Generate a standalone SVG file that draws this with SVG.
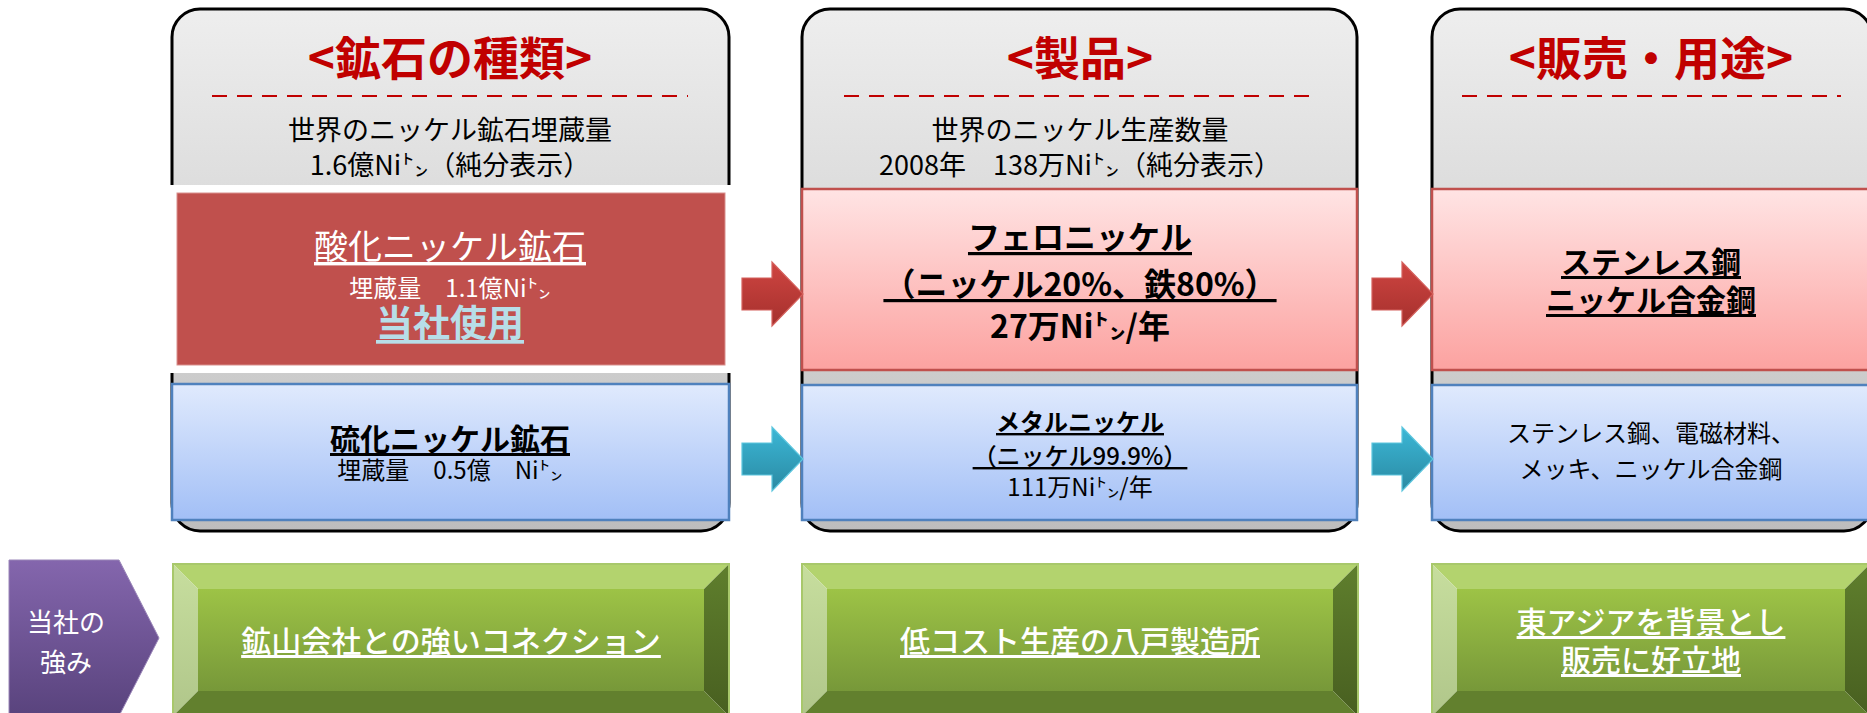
<svg xmlns="http://www.w3.org/2000/svg" width="1867" height="713" viewBox="0 0 1867 713">
<defs>
<linearGradient id="gPanel" x1="0" y1="0" x2="0" y2="1"><stop offset="0" stop-color="#eeeeee"/><stop offset="1" stop-color="#bdbdbd"/></linearGradient>
<linearGradient id="gPink" x1="0" y1="0" x2="0" y2="1"><stop offset="0" stop-color="#ffe4e4"/><stop offset="1" stop-color="#fca2a0"/></linearGradient>
<linearGradient id="gBlue" x1="0" y1="0" x2="0" y2="1"><stop offset="0" stop-color="#e0eafd"/><stop offset="1" stop-color="#a2bff6"/></linearGradient>
<linearGradient id="gRedArrow" x1="0" y1="0" x2="0" y2="1"><stop offset="0" stop-color="#cf4541"/><stop offset="1" stop-color="#a5302d"/></linearGradient>
<linearGradient id="gBlueArrow" x1="0" y1="0" x2="0" y2="1"><stop offset="0" stop-color="#3cb7d6"/><stop offset="1" stop-color="#2a8aa3"/></linearGradient>
<linearGradient id="gPurple" x1="0" y1="0" x2="0" y2="1"><stop offset="0" stop-color="#8466ad"/><stop offset="1" stop-color="#59437d"/></linearGradient>
<linearGradient id="gGreenFace" x1="0" y1="0" x2="0" y2="1"><stop offset="0" stop-color="#9dc346"/><stop offset="1" stop-color="#779839"/></linearGradient>
<linearGradient id="gGreenLeft" x1="0" y1="0" x2="0" y2="1"><stop offset="0" stop-color="#c7de9e"/><stop offset="1" stop-color="#b0c68a"/></linearGradient>
<linearGradient id="gGreenRight" x1="0" y1="0" x2="0" y2="1"><stop offset="0" stop-color="#5f7f2d"/><stop offset="1" stop-color="#485f20"/></linearGradient>
</defs>
<style>
text{font-family:"Noto Sans CJK JP","Noto Sans CJK SC",sans-serif;text-anchor:middle;dominant-baseline:central}
.panel{fill:url(#gPanel);stroke:#000;stroke-width:3}
.hdr{font-size:46px;font-weight:bold;fill:#c00000}
.dash{stroke:#c00000;stroke-width:2.2;stroke-dasharray:15 10}
.sub{font-size:27px;fill:#000}
.pink{fill:url(#gPink);stroke:#c0504d;stroke-width:2.5}
.blue{fill:url(#gBlue);stroke:#4f81bd;stroke-width:2.5}
.u{text-decoration:underline}
.b{font-weight:bold}
.w{fill:#fff}
.k{fill:#000}
.ra{fill:url(#gRedArrow);stroke:#d4605c;stroke-width:1.2}
.ba{fill:url(#gBlueArrow);stroke:#5cc6de;stroke-width:1.2}
.gface{fill:url(#gGreenFace)}
.gtop{fill:#b3d36e}
.gleft{fill:url(#gGreenLeft)}
.gright{fill:url(#gGreenRight)}
.gbot{fill:#62802e}
.gedge{fill:none;stroke:#a8c86b;stroke-width:2}
.gtxt{font-size:30px;fill:#fff;font-weight:500}
</style>

<g id="col1">
<rect class="panel" x="172" y="9" width="557" height="522" rx="28"/>
<text class="hdr" x="450" y="55">&lt;鉱石の種類&gt;</text>
<line class="dash" x1="212" y1="96" x2="688" y2="96"/>
<text class="sub"><tspan x="450" y="128">世界のニッケル鉱石埋蔵量</tspan><tspan x="450" y="163">1.6億Ni㌧（純分表示）</tspan></text>
</g>
<g id="oxide-ore">
<rect x="169" y="185" width="564" height="188" fill="#fff"/>
<rect x="177" y="193" width="548" height="172" fill="#c0504d" stroke="#d98f8d" stroke-width="1"/>
<text class="w"><tspan class="u" x="450" y="244" font-size="34">酸化ニッケル鉱石</tspan><tspan x="450" y="286" font-size="24">埋蔵量　1.1億Ni㌧</tspan><tspan class="b u" x="450" y="321" font-size="37" fill="#b7dee8">当社使用</tspan></text>
</g>
<g id="sulfide-ore">
<rect class="blue" x="172" y="384" width="557" height="136"/>
<text class="k"><tspan class="b u" x="450" y="437" font-size="30">硫化ニッケル鉱石</tspan><tspan x="450" y="468" font-size="24">埋蔵量　0.5億　Ni㌧</tspan></text>
</g>

<g id="col2">
<rect class="panel" x="802" y="9" width="555" height="522" rx="28"/>
<text class="hdr" x="1080" y="55">&lt;製品&gt;</text>
<line class="dash" x1="844" y1="96" x2="1317" y2="96"/>
<text class="sub"><tspan x="1080" y="128">世界のニッケル生産数量</tspan><tspan x="1080" y="163">2008年　138万Ni㌧（純分表示）</tspan></text>
</g>
<g id="ferronickel">
<rect class="pink" x="802" y="189" width="555" height="181"/>
<text class="k b" font-size="32"><tspan class="u" x="1080" y="235">フェロニッケル</tspan><tspan class="u" x="1080" y="282">（ニッケル20%、鉄80%）</tspan><tspan x="1080" y="324">27万Ni㌧/年</tspan></text>
</g>
<g id="metal-nickel">
<rect class="blue" x="802" y="385" width="555" height="135"/>
<text class="k" font-size="24"><tspan class="b u" x="1080" y="420">メタルニッケル</tspan><tspan class="u" x="1080" y="454" font-weight="500">（ニッケル99.9%）</tspan><tspan x="1080" y="485">111万Ni㌧/年</tspan></text>
</g>

<g id="col3">
<rect class="panel" x="1432" y="9" width="440" height="522" rx="28"/>
<text class="hdr" x="1651" y="55">&lt;販売・用途&gt;</text>
<line class="dash" x1="1462" y1="96" x2="1841" y2="96"/>
</g>
<g id="use-ferro">
<rect class="pink" x="1432" y="189" width="440" height="181"/>
<text class="k b u" font-size="30"><tspan x="1651" y="260">ステンレス鋼</tspan><tspan x="1651" y="298">ニッケル合金鋼</tspan></text>
</g>
<g id="use-metal">
<rect class="blue" x="1432" y="385" width="440" height="135"/>
<text class="k" font-size="24"><tspan x="1651" y="431">ステンレス鋼、電磁材料、</tspan><tspan x="1651" y="467">メッキ、ニッケル合金鋼</tspan></text>
</g>

<g id="connectors">
<path class="ra" d="M742,278 H772 V262 L803,294 L772,326 V310 H742 Z"/>
<path class="ba" d="M742,443 H772 V427 L803,459 L772,491 V475 H742 Z"/>
<path class="ra" d="M1372,278 H1402 V262 L1433,294 L1402,326 V310 H1372 Z"/>
<path class="ba" d="M1372,443 H1402 V427 L1433,459 L1402,491 V475 H1372 Z"/>
</g>

<g id="strength-label">
<polygon points="9,560 119,560 159,638 119,716 9,716" fill="url(#gPurple)" stroke="#9a86b8" stroke-width="1"/>
<text class="w" font-size="26"><tspan x="66" y="620">当社の</tspan><tspan x="66" y="660">強み</tspan></text>
</g>

<g id="strength1">
<polygon class="gtop" points="173,564 729,564 704,589 198,589"/>
<polygon class="gleft" points="173,564 198,589 198,691 173,716"/>
<polygon class="gright" points="729,564 729,716 704,691 704,589"/>
<polygon class="gbot" points="173,716 198,691 704,691 729,716"/>
<rect class="gface" x="198" y="589" width="506" height="102"/>
<rect class="gedge" x="173" y="564" width="556" height="152"/>
<text class="gtxt u" x="451" y="639">鉱山会社との強いコネクション</text>
</g>
<g id="strength2">
<polygon class="gtop" points="802,564 1358,564 1333,589 827,589"/>
<polygon class="gleft" points="802,564 827,589 827,691 802,716"/>
<polygon class="gright" points="1358,564 1358,716 1333,691 1333,589"/>
<polygon class="gbot" points="802,716 827,691 1333,691 1358,716"/>
<rect class="gface" x="827" y="589" width="506" height="102"/>
<rect class="gedge" x="802" y="564" width="556" height="152"/>
<text class="gtxt u" x="1080" y="639">低コスト生産の八戸製造所</text>
</g>
<g id="strength3">
<polygon class="gtop" points="1432,564 1870,564 1845,589 1457,589"/>
<polygon class="gleft" points="1432,564 1457,589 1457,691 1432,716"/>
<polygon class="gright" points="1870,564 1870,716 1845,691 1845,589"/>
<polygon class="gbot" points="1432,716 1457,691 1845,691 1870,716"/>
<rect class="gface" x="1457" y="589" width="388" height="102"/>
<rect class="gedge" x="1432" y="564" width="438" height="152"/>
<text class="gtxt u"><tspan x="1651" y="620">東アジアを背景とし</tspan><tspan x="1651" y="658">販売に好立地</tspan></text>
</g>
</svg>
